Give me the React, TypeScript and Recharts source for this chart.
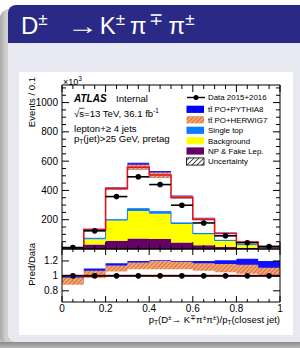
import React from "react";
import { Area, ComposedChart, ErrorBar, Line, ReferenceLine, Scatter, XAxis, YAxis } from "recharts";

const FONT = "'Liberation Sans', Arial, Helvetica, sans-serif";

// 10 bins of 0.1 in pT(D)/pT(closest jet)
const BIN_LOW = [0, 0.1, 0.2, 0.3, 0.4, 0.5, 0.6, 0.7, 0.8, 0.9];
const BIN_CENTER = [0.05, 0.15, 0.25, 0.35, 0.45, 0.55, 0.65, 0.75, 0.85, 0.95];
const X_MAX = 1;
const HALF_BIN = 0.05;

// Events / 0.1 (x10^3)
const DATA = [10, 124, 358, 493, 440, 299, 178, 90, 43, 16];
const NP_FAKE = [1, 30, 56, 72, 68, 45, 25, 16, 8, 3];
const BACKGROUND = [2, 36, 138, 187, 173, 126, 76, 38, 19, 7];
const SINGLE_TOP = [1, 7, 6, 16, 14, 7, 5, 5, 3, 1];
const TOTAL = [8, 133, 414, 558, 505, 353, 203, 106, 47, 18];
const PYTHIA_UP = [9, 138, 420, 589, 532, 366, 214, 113, 50, 19];
const HERWIG_UP = [8, 135, 416, 576, 522, 360, 210, 109, 48, 18];
const HERWIG_DN = [6, 127, 404, 543, 486, 344, 197, 102, 45, 17];

// Pred/Data
const R_DATA = [1, 1, 1, 1, 1, 1, 1, 1, 1, 1];
const R_PYTHIA_UP = [0.98, 1.1, 1.17, 1.2, 1.21, 1.2, 1.2, 1.21, 1.23, 1.2];
const R_PYTHIA_DN = [0.93, 1.05, 1.12, 1.15, 1.15, 1.14, 1.13, 1.12, 1.11, 1.09];
const R_HERWIG_UP = [0.97, 1.07, 1.14, 1.18, 1.2, 1.19, 1.17, 1.16, 1.15, 1.11];
const R_HERWIG_DN = [0.88, 0.97, 1.06, 1.09, 1.09, 1.09, 1.07, 1.05, 1.03, 1.01];

const X_TICKS = [0, 0.05, 0.1, 0.15, 0.2, 0.25, 0.3, 0.35, 0.4, 0.45, 0.5, 0.55, 0.6, 0.65, 0.7, 0.75, 0.8, 0.85, 0.9, 0.95, 1];
const X_LABELS = [0, 0.2, 0.4, 0.6, 0.8, 1];
const Y_TICKS = [50, 100, 150, 200, 250, 300, 350, 400, 450, 500, 550, 600, 650, 700, 750, 800, 850, 900, 950, 1000, 1050, 1100];
const Y_LABELS = [200, 400, 600, 800, 1000];
const Y_DOMAIN = [0, 1120];
const R_TICKS = [0.8, 1, 1.2];
const R_DOMAIN = [0.65, 1.36];

const LEGEND = [
  { label: "Data 2015+2016", kind: "data" },
  { label: "tt\u0304 PO+PYTHIA8", kind: "fill", color: "#0000ff" },
  { label: "tt\u0304 PO+HERWIG7", kind: "fill", color: "url(#lgHw)" },
  { label: "Single top", kind: "fill", color: "#0a7cff" },
  { label: "Background", kind: "fill", color: "#ffff00" },
  { label: "NP & Fake Lep.", kind: "fill", color: "#660066" },
  { label: "Uncertainty", kind: "fill", color: "url(#lgUnc)" },
];

// step histogram rows: one per low edge, last bin repeated at x = 1 to close it
const histRows = [...BIN_LOW, X_MAX].map((x, k) => {
  const i = Math.min(k, BIN_LOW.length - 1);
  return {
    x,
    np: NP_FAKE[i],
    bkg: BACKGROUND[i],
    st: SINGLE_TOP[i],
    total: TOTAL[i],
    py: [HERWIG_DN[i], PYTHIA_UP[i]],
    hw: [HERWIG_DN[i], HERWIG_UP[i]],
    rPy: [R_PYTHIA_DN[i], R_PYTHIA_UP[i]],
    rHw: [R_HERWIG_DN[i], R_HERWIG_UP[i]],
    one: 1,
  };
});

const points = BIN_CENTER.map((x, i) => ({ x, y: DATA[i], r: R_DATA[i], ex: HALF_BIN }));

const near = (list: number[], v: number) => list.some((t) => Math.abs(t - v) < 1e-6);

type Side = "left" | "right" | "top" | "bottom";

/** inward ROOT-style ticks, label only on the listed values */
function rootTick(side: Side, majors: number[], major: number, minor: number, labels?: number[]) {
  return (p: any) => {
    const v = Number(p.payload.value);
    const len = near(majors, v) ? major : minor;
    const lab = labels && near(labels, v) ? String(v) : null;
    const { x, y } = p;
    let line;
    if (side === "left") line = <line x1={x} y1={y} x2={x + len} y2={y} stroke="#000" />;
    else if (side === "right") line = <line x1={x} y1={y} x2={x - len} y2={y} stroke="#000" />;
    else if (side === "top") line = <line x1={x} y1={y} x2={x} y2={y + len} stroke="#000" />;
    else line = <line x1={x} y1={y} x2={x} y2={y - len} stroke="#000" />;
    return (
      <g>
        {line}
        {lab !== null && side === "left" && (
          <text x={x - 4} y={y + 3.5} textAnchor="end" fontSize={10} fontFamily={FONT} fill="#000">
            {lab}
          </text>
        )}
        {lab !== null && side === "bottom" && (
          <text x={x} y={y + 10} textAnchor="middle" fontSize={10} fontFamily={FONT} fill="#000">
            {lab}
          </text>
        )}
      </g>
    );
  };
}

const axisCommon = {
  tickSize: 0,
  tickMargin: 0,
  tickLine: false,
  interval: 0 as const,
  allowDataOverflow: true,
  axisLine: { stroke: "#000", strokeWidth: 1 },
};

function dot(p: any) {
  return <circle cx={p.cx} cy={p.cy} r={2.8} fill="#000" />;
}

function MainPanel() {
  return (
    <ComposedChart width={300} height={348} data={histRows} margin={{ top: 84, right: 19, bottom: 98, left: 61 }}>
      <defs>
        <pattern id="hwHatch" width="3" height="3" patternUnits="userSpaceOnUse" patternTransform="rotate(45)">
          <rect width="3" height="3" fill="#f2a878" />
          <line x1="0" y1="0" x2="0" y2="3" stroke="#d0602a" strokeWidth="1.6" />
        </pattern>
      </defs>
      <XAxis xAxisId="b" dataKey="x" type="number" domain={[0, X_MAX]} ticks={X_TICKS} height={1}
        tick={rootTick("bottom", X_LABELS, 7, 4)} {...axisCommon} />
      <XAxis xAxisId="t" orientation="top" dataKey="x" type="number" domain={[0, X_MAX]} ticks={X_TICKS} height={1}
        tick={rootTick("top", X_LABELS, 7, 4)} {...axisCommon} />
      <YAxis yAxisId="l" type="number" domain={Y_DOMAIN} ticks={Y_TICKS} width={1}
        tick={rootTick("left", Y_LABELS, 7, 4, Y_LABELS)} {...axisCommon} />
      <YAxis yAxisId="r" orientation="right" type="number" domain={Y_DOMAIN} ticks={Y_TICKS} width={1}
        tick={rootTick("right", Y_LABELS, 7, 4)} {...axisCommon} />

      <Area xAxisId="b" yAxisId="l" stackId="mc" type="stepAfter" dataKey="np" fill="#660066" fillOpacity={1} stroke="none" isAnimationActive={false} />
      <Area xAxisId="b" yAxisId="l" stackId="mc" type="stepAfter" dataKey="bkg" fill="#ffff00" fillOpacity={1} stroke="none" isAnimationActive={false} />
      <Area xAxisId="b" yAxisId="l" stackId="mc" type="stepAfter" dataKey="st" fill="#0a7cff" fillOpacity={1} stroke="#0a7cff" strokeWidth={1} isAnimationActive={false} />
      <Area xAxisId="b" yAxisId="l" type="stepAfter" dataKey="py" fill="#2020ff" fillOpacity={1} stroke="none" isAnimationActive={false} />
      <Area xAxisId="b" yAxisId="l" type="stepAfter" dataKey="hw" fill="url(#hwHatch)" fillOpacity={1} stroke="none" isAnimationActive={false} />
      <Line xAxisId="b" yAxisId="l" type="stepAfter" dataKey="total" stroke="#e3131b" strokeWidth={1.6} dot={false} activeDot={false} isAnimationActive={false} />
      <Line xAxisId="t" yAxisId="r" dataKey="total" stroke="none" dot={false} activeDot={false} isAnimationActive={false} />
      <Scatter xAxisId="b" yAxisId="l" data={points} dataKey="y" shape={dot} isAnimationActive={false}>
        <ErrorBar dataKey="ex" direction="x" width={0} stroke="#000" strokeWidth={1.6} />
      </Scatter>
    </ComposedChart>
  );
}

function RatioPanel() {
  return (
    <ComposedChart width={300} height={348} data={histRows} margin={{ top: 248, right: 19, bottom: 45, left: 61 }}>
      <defs>
        <pattern id="rHwHatch" width="3" height="3" patternUnits="userSpaceOnUse" patternTransform="rotate(45)">
          <rect width="3" height="3" fill="#f2a878" />
          <line x1="0" y1="0" x2="0" y2="3" stroke="#d0602a" strokeWidth="1.6" />
        </pattern>
      </defs>
      <XAxis xAxisId="b" dataKey="x" type="number" domain={[0, X_MAX]} ticks={X_TICKS} height={1}
        tick={rootTick("bottom", X_LABELS, 6, 3, X_LABELS)} {...axisCommon} />
      <XAxis xAxisId="t" orientation="top" dataKey="x" type="number" domain={[0, X_MAX]} ticks={X_TICKS} height={1}
        tick={rootTick("top", X_LABELS, 6, 3)} {...axisCommon} />
      <YAxis yAxisId="l" type="number" domain={R_DOMAIN} ticks={R_TICKS} width={1}
        tick={rootTick("left", R_TICKS, 7, 4, R_TICKS)} {...axisCommon} />
      <YAxis yAxisId="r" orientation="right" type="number" domain={R_DOMAIN} ticks={R_TICKS} width={1}
        tick={rootTick("right", R_TICKS, 7, 4)} {...axisCommon} />

      <Area xAxisId="b" yAxisId="l" type="stepAfter" dataKey="rPy" fill="#1010ff" fillOpacity={1} stroke="none" isAnimationActive={false} />
      <Area xAxisId="b" yAxisId="l" type="stepAfter" dataKey="rHw" fill="url(#rHwHatch)" fillOpacity={1} stroke="none" isAnimationActive={false} />
      <ReferenceLine xAxisId="b" yAxisId="l" y={1} stroke="#b0151a" strokeWidth={2} />
      <Line xAxisId="t" yAxisId="r" dataKey="one" stroke="none" dot={false} activeDot={false} isAnimationActive={false} />
      <Scatter xAxisId="b" yAxisId="l" data={points} dataKey="r" shape={dot} isAnimationActive={false}>
        <ErrorBar dataKey="ex" direction="x" width={0} stroke="#000" strokeWidth={1.4} />
      </Scatter>
    </ComposedChart>
  );
}

function Overlay() {
  const rowY = [97.5, 109.3, 119.8, 130.3, 140.7, 151, 161.5];
  return (
    <svg width={300} height={348} style={{ position: "absolute", left: 0, top: 0 }} fontFamily={FONT}>
      <defs>
        <pattern id="lgHw" width="3" height="3" patternUnits="userSpaceOnUse" patternTransform="rotate(45)">
          <rect width="3" height="3" fill="#f2a878" />
          <line x1="0" y1="0" x2="0" y2="3" stroke="#d0602a" strokeWidth="1.6" />
        </pattern>
        <pattern id="lgUnc" width="3.5" height="3.5" patternUnits="userSpaceOnUse" patternTransform="rotate(45)">
          <rect width="3.5" height="3.5" fill="#fff" />
          <line x1="0" y1="0" x2="0" y2="3.5" stroke="#000" strokeWidth="1.3" />
        </pattern>
      </defs>

      {/* axis titles */}
      <text transform="translate(34.5,77) rotate(-90)" textAnchor="end" fontSize={9.5}>Events / 0.1</text>
      <text transform="translate(34.5,243) rotate(-90)" textAnchor="end" fontSize={9.5}>Pred/Data</text>
      <text x={63} y={84.5} fontSize={9}>
        ×10<tspan fontSize={6.5} dy={-3.5}>3</tspan>
      </text>
      <text x={280} y={322.5} textAnchor="end" fontSize={9.5}>
        p<tspan fontSize={6.5} dy={2}>T</tspan>
        <tspan dy={-2}>(D</tspan>
        <tspan fontSize={6.5} dy={-3}>±</tspan>
        <tspan dy={3}>→ K</tspan>
        <tspan fontSize={6.5} dy={-3}>∓</tspan>
        <tspan dy={3}>π</tspan>
        <tspan fontSize={6.5} dy={-3}>±</tspan>
        <tspan dy={3}>π</tspan>
        <tspan fontSize={6.5} dy={-3}>±</tspan>
        <tspan dy={3}>)/p</tspan>
        <tspan fontSize={6.5} dy={2}>T</tspan>
        <tspan dy={-2}>(closest jet)</tspan>
      </text>

      {/* ATLAS labels */}
      <text x={74} y={102} fontSize={10} fontWeight="bold" fontStyle="italic">ATLAS</text>
      <text x={116} y={102} fontSize={9.6}>Internal</text>
      <text x={74} y={117} fontSize={9.6}>
        √s=13 TeV, 36.1 fb<tspan fontSize={6.5} dy={-4}>-1</tspan>
      </text>
      <line x1={79} y1={108.3} x2={84.5} y2={108.3} stroke="#000" strokeWidth={0.7} />
      <text x={74} y={131.5} fontSize={9.6}>lepton+≥ 4 jets</text>
      <text x={74} y={141.5} fontSize={9.6}>
        p<tspan fontSize={6.5} dy={2}>T</tspan>
        <tspan dy={-2}>(jet)&gt;25 GeV, pretag</tspan>
      </text>

      {/* legend */}
      {LEGEND.map((e, i) => (
        <g key={e.label}>
          {e.kind === "data" ? (
            <g>
              <line x1={187} y1={rowY[i]} x2={205} y2={rowY[i]} stroke="#000" strokeWidth={1.4} />
              <circle cx={196} cy={rowY[i]} r={2.5} fill="#000" />
            </g>
          ) : (
            <rect x={186.5} y={rowY[i] - 3.6} width={17.5} height={7.2} fill={e.color}
              stroke={e.label === "Uncertainty" ? "#000" : "none"} strokeWidth={0.8} />
          )}
          <text x={208} y={rowY[i] + 2.9} fontSize={7.9}>{e.label}</text>
        </g>
      ))}
    </svg>
  );
}

const sup = { fontSize: 17, position: "relative" as const, top: -9 };

export default function App() {
  return (
    <div style={{ position: "fixed", left: 0, top: 0, width: 300, height: 348, overflow: "hidden", background: "#fff", fontFamily: FONT }}>
      {/* slide shadow */}
      <div style={{ position: "absolute", left: 0, top: 9, width: 330, height: 339, borderRadius: 9, background: "linear-gradient(90deg,#a9a9a9,#cfcfcf 6px)" }} />
      <div style={{ position: "absolute", left: 0, top: 342, width: 330, height: 6, background: "linear-gradient(180deg,#8a8a8a,#b8b8b8)" }} />
      {/* block title */}
      <div style={{ position: "absolute", left: 8, top: 5, width: 320, height: 38, borderRadius: "8px 8px 0 0", background: "#2a2a86" }}>
        <div style={{ position: "absolute", left: 13, top: 9, fontSize: 24, lineHeight: "24px", color: "#fff", whiteSpace: "nowrap" }}>
          D<span style={sup}>±</span>
          <span style={{ display: "inline-block", marginLeft: 19, width: 25, transform: "scaleX(1.3)", transformOrigin: "left" }}>→</span>
          <span style={{ marginLeft: 8 }}>K</span>
          <span style={sup}>±</span>
          <span style={{ marginLeft: 5 }}>π</span>
          <span style={{ ...sup, marginLeft: 2 }}>∓</span>
          <span style={{ marginLeft: 6 }}>π</span>
          <span style={sup}>±</span>
        </div>
      </div>
      {/* block body */}
      <div style={{ position: "absolute", left: 8, top: 43, width: 320, height: 299, borderRadius: "0 0 8px 8px", background: "#e8e8f3" }} />
      {/* figure */}
      <div style={{ position: "absolute", left: 19, top: 72, width: 274, height: 263, background: "#fff" }} />
      <div style={{ position: "absolute", left: 0, top: 0 }}>
        <MainPanel />
      </div>
      <div style={{ position: "absolute", left: 0, top: 0 }}>
        <RatioPanel />
      </div>
      <Overlay />
    </div>
  );
}
